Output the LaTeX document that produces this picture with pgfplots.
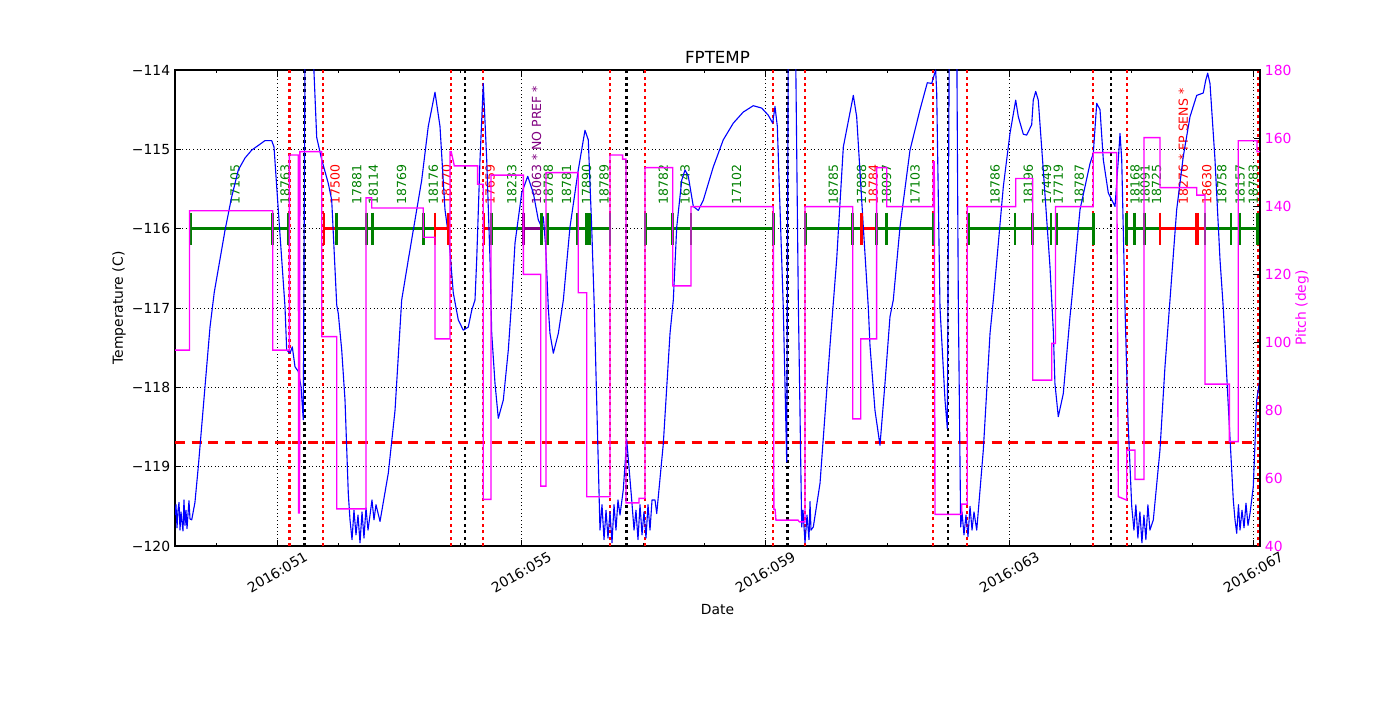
\documentclass[border=0pt]{standalone}
\usepackage{fontspec}
\setmainfont{DejaVu Sans}
\usepackage{pgfplots}
\pgfplotsset{compat=1.18}
\definecolor{mplgreen}{rgb}{0,0.5,0}
\definecolor{mplpurple}{rgb}{0.5,0,0.5}
\definecolor{mplmag}{rgb}{1,0,1}
\definecolor{mplred}{rgb}{1,0,0}
\definecolor{mplblue}{rgb}{0,0,1}
\newcommand{\seg}[3]{\addplot[#1, line width=2pt, mark=|, mark size=11.4pt, mark options={line width=2pt, solid}] coordinates {(#2,-116) (#3,-116)};}
\newcommand{\lab}[3]{\node[rotate=90, anchor=west, inner sep=0pt, text=#1, font=\fontsize{9}{10}\selectfont] at (axis cs:#2,-115.70) {#3};}
\newcommand{\vl}[2]{\addplot[#1, line width=1.7pt, dash pattern=on 2.2pt off 2.4pt] coordinates {(#2,-120) (#2,-114)};}

\pgfplotstableread{
x y
49.323 -119.61
49.339 -119.48
49.356 -119.77
49.372 -119.55
49.389 -119.45
49.405 -119.80
49.421 -119.57
49.438 -119.70
49.454 -119.81
49.470 -119.42
49.487 -119.74
49.503 -119.55
49.520 -119.78
49.536 -119.60
49.552 -119.43
49.569 -119.66
49.597 -119.67
49.650 -119.45
49.705 -119.00
49.815 -117.99
49.897 -117.24
49.967 -116.80
50.143 -116.02
50.252 -115.60
50.361 -115.26
50.470 -115.11
50.580 -115.01
50.690 -114.95
50.798 -114.89
50.908 -114.89
50.946 -114.97
51.016 -115.76
51.126 -116.98
51.154 -117.53
51.208 -117.57
51.246 -117.49
51.290 -117.74
51.344 -117.80
51.389 -117.99
51.426 -118.41
51.459 -113.00
51.590 -113.00
51.600 -114.00
51.646 -114.85
51.728 -115.13
51.836 -115.43
51.892 -115.64
51.974 -116.96
52.000 -117.07
52.056 -117.53
52.110 -118.16
52.164 -119.34
52.192 -119.67
52.225 -119.92
52.257 -119.55
52.290 -119.86
52.323 -119.61
52.356 -119.96
52.389 -119.57
52.421 -119.90
52.454 -119.52
52.487 -119.80
52.520 -119.61
52.552 -119.42
52.585 -119.67
52.618 -119.48
52.684 -119.69
52.820 -119.08
52.930 -118.29
53.039 -116.90
53.148 -116.39
53.367 -115.39
53.475 -114.71
53.585 -114.28
53.667 -114.71
53.749 -115.76
53.815 -116.14
53.885 -116.81
53.967 -117.15
54.049 -117.28
54.131 -117.24
54.187 -117.03
54.241 -116.90
54.269 -116.39
54.323 -115.13
54.377 -114.17
54.433 -115.13
54.487 -116.39
54.515 -117.32
54.569 -117.95
54.623 -118.39
54.705 -118.16
54.787 -117.53
54.843 -116.90
54.897 -116.18
55.007 -115.55
55.105 -115.34
55.197 -115.55
55.279 -115.89
55.334 -115.98
55.361 -115.85
55.400 -116.23
55.443 -117.00
55.470 -117.32
55.525 -117.57
55.607 -117.32
55.689 -116.90
55.798 -115.98
55.934 -115.26
56.044 -114.76
56.098 -114.88
56.154 -115.98
56.197 -117.00
56.290 -119.80
56.323 -119.48
56.356 -119.92
56.389 -119.55
56.421 -119.90
56.454 -119.57
56.487 -119.96
56.520 -119.48
56.552 -119.80
56.585 -119.42
56.618 -119.61
56.672 -119.29
56.728 -118.66
56.810 -119.42
56.848 -119.80
56.880 -119.55
56.913 -119.92
56.946 -119.48
56.979 -119.86
57.011 -119.57
57.044 -119.90
57.077 -119.48
57.110 -119.80
57.143 -119.42
57.192 -119.42
57.220 -119.59
57.328 -118.71
57.438 -117.32
57.492 -116.90
57.548 -115.98
57.630 -115.39
57.684 -115.26
57.738 -115.34
57.820 -115.72
57.902 -115.77
57.984 -115.64
58.148 -115.22
58.311 -114.88
58.475 -114.67
58.639 -114.53
58.803 -114.45
58.941 -114.48
59.049 -114.57
59.121 -114.67
59.159 -114.46
59.197 -114.71
59.295 -117.00
59.351 -118.94
59.380 -113.00
59.487 -113.00
59.541 -116.90
59.597 -119.76
59.618 -119.55
59.651 -119.96
59.684 -119.61
59.716 -119.92
59.733 -119.44
59.749 -119.80
59.787 -119.76
59.897 -119.21
60.061 -117.47
60.170 -116.39
60.279 -114.97
60.443 -114.32
60.498 -114.59
60.607 -115.98
60.689 -117.00
60.716 -117.47
60.798 -118.29
60.880 -118.73
60.962 -117.95
61.044 -117.11
61.098 -116.90
61.208 -115.98
61.372 -115.01
61.536 -114.50
61.656 -114.16
61.728 -114.17
61.754 -114.10
61.793 -114.00
61.810 -114.29
61.864 -117.00
61.946 -118.16
61.984 -118.52
62.020 -113.00
62.134 -113.00
62.164 -116.90
62.203 -119.76
62.225 -119.57
62.257 -119.86
62.290 -119.61
62.323 -119.88
62.356 -119.50
62.389 -119.80
62.421 -119.57
62.466 -119.80
62.574 -118.79
62.684 -117.32
62.738 -116.90
62.902 -115.47
63.011 -114.80
63.105 -114.38
63.148 -114.59
63.230 -114.81
63.285 -114.82
63.367 -114.69
63.393 -114.38
63.433 -114.27
63.475 -114.38
63.557 -115.26
63.667 -116.48
63.721 -117.28
63.748 -117.95
63.803 -118.37
63.885 -118.08
63.995 -117.11
64.023 -116.90
64.159 -115.76
64.323 -115.18
64.377 -115.05
64.433 -114.42
64.487 -114.50
64.541 -115.13
64.623 -115.55
64.733 -115.72
64.787 -115.13
64.815 -114.80
64.843 -115.13
64.897 -117.00
64.946 -118.41
65.007 -119.50
65.043 -119.80
65.075 -119.48
65.108 -119.90
65.141 -119.57
65.174 -119.96
65.207 -119.61
65.239 -119.92
65.272 -119.48
65.305 -119.80
65.361 -119.67
65.470 -118.79
65.552 -117.74
65.634 -116.90
65.744 -115.76
65.852 -115.09
65.962 -114.59
66.072 -114.32
66.180 -114.29
66.220 -114.13
66.252 -114.04
66.290 -114.17
66.372 -115.13
66.454 -116.39
66.508 -117.00
66.585 -118.16
66.672 -119.42
66.700 -119.67
66.728 -119.84
66.757 -119.48
66.782 -119.80
66.815 -119.55
66.848 -119.77
66.880 -119.46
66.913 -119.74
66.946 -119.59
67.000 -119.25
67.056 -118.16
67.098 -117.95
67.110 -117.78
}\temptable

\pgfplotstableread{
x p
49.323 97.6
49.561 97.6
49.561 138.6
50.925 138.6
50.925 97.6
51.197 97.6
51.197 155.0
51.344 155.0
51.350 49.7
51.364 49.7
51.370 156.0
51.728 156.0
51.728 101.6
51.974 101.6
51.974 50.9
52.454 50.9
52.454 142.4
52.548 142.4
52.548 139.4
53.393 139.4
53.393 130.8
53.585 130.8
53.585 100.9
53.831 100.9
53.831 156.0
53.850 156.0
53.902 151.8
54.285 151.8
54.285 146.4
54.377 146.4
54.377 53.7
54.503 53.7
54.503 149.1
55.033 149.1
55.033 119.9
55.318 119.9
55.318 57.6
55.405 57.6
55.405 149.8
55.934 149.8
55.934 114.5
56.072 114.5
56.072 54.5
56.454 54.5
56.454 155.0
56.662 155.0
56.662 153.8
56.716 153.8
56.716 52.7
56.930 52.7
56.930 54.0
57.028 54.0
57.028 151.3
57.482 151.3
57.482 116.5
57.782 116.5
57.782 139.8
59.131 139.8
59.140 50.8
59.160 50.8
59.175 47.6
59.536 47.6
59.560 47.1
59.651 47.1
59.651 139.8
60.433 139.8
60.433 77.4
60.564 77.4
60.564 100.9
60.826 100.9
60.826 151.3
60.990 151.3
60.990 139.8
61.754 139.8
61.754 153.0
61.770 153.0
61.782 49.3
62.220 49.3
62.220 52.3
62.311 52.3
62.311 139.8
63.105 139.8
63.105 148.1
63.384 148.1
63.384 88.8
63.695 88.8
63.695 99.6
63.757 99.6
63.757 139.8
64.377 139.8
64.377 155.7
64.761 155.7
64.787 54.5
64.925 53.5
64.925 68.2
65.061 68.2
65.061 59.6
65.208 59.6
65.208 160.1
65.470 160.1
65.470 145.4
66.072 145.4
66.072 143.2
66.208 143.2
66.208 87.6
66.607 87.6
66.607 70.7
66.754 70.7
66.754 159.2
67.061 159.2
67.061 156.0
67.110 156.0
}\pitchtable

\begin{document}
\begin{tikzpicture}
\path[use as bounding box] (0,0) rectangle (1008pt,504pt);
\begin{axis}[
  at={(126pt,110.88pt)}, anchor=south west,
  scale only axis, width=781.2pt, height=342.72pt,
  xmin=49.323, xmax=67.11, ymin=-120, ymax=-114,
  xtick={51,55,59,63,67},
  xticklabels={2016:051,2016:055,2016:059,2016:063,2016:067},
  minor xtick={50,52,53,54,56,57,58,60,61,62,64,65,66},
  ytick={-120,-119,-118,-117,-116,-115,-114},
  yticklabels={−120,−119,−118,−117,−116,−115,−114},
  xtick pos=both, ytick pos=left,
  tick align=inside,
  major tick length=4pt, minor tick length=2pt,
  tick style={black, line width=0.5pt},
  xmajorgrids, ymajorgrids,
  major grid style={black, line width=0.5pt, dash pattern=on 0.6pt off 2pt},
  axis line style={black, line width=0.8pt},
  tick label style={font=\fontsize{10}{12}\selectfont},
  xticklabel style={yshift=-19pt, rotate=30, anchor=center},
  title={FPTEMP},
  title style={font=\fontsize{12}{14}\selectfont, at={(axis description cs:0.5,1.0273)}, anchor=center, yshift=-6pt},
  xlabel={Date},
  xlabel style={font=\fontsize{10}{12}\selectfont, at={(axis description cs:0.5,-0.1345)}, anchor=center},
  ylabel={Temperature (C)},
  ylabel style={font=\fontsize{10}{12}\selectfont, at={(axis description cs:-0.0516,0.5)}, anchor=center},
]
% vertical lines
\vl{mplred}{51.200}
\vl{mplred}{51.754}
\vl{mplred}{53.843}
\vl{mplred}{54.377}
\vl{mplred}{56.454}
\vl{mplred}{57.028}
\vl{mplred}{59.131}
\vl{mplred}{59.651}
\vl{mplred}{61.754}
\vl{mplred}{62.311}
\vl{mplred}{64.377}
\vl{mplred}{64.934}
\vl{mplred}{67.085}
\vl{black}{51.443}
\vl{black}{54.077}
\vl{black}{56.725}
\vl{black}{59.361}
\vl{black}{61.990}
\vl{black}{64.662}
% limit line
\addplot[mplred, line width=2.2pt, dash pattern=on 7.2pt off 4.8pt] coordinates {(49.323,-118.70) (67.11,-118.70)};
% observation bars
\seg{mplgreen}{49.580}{50.925}
\seg{mplgreen}{50.925}{51.180}
\seg{mplred}{51.766}{51.974}
\seg{mplgreen}{51.974}{52.466}
\seg{mplgreen}{52.466}{52.557}
\seg{mplgreen}{52.557}{53.393}
\seg{mplgreen}{53.393}{53.585}
\seg{mplred}{53.585}{53.803}
\seg{mplred}{54.389}{54.515}
\seg{mplgreen}{54.515}{55.033}
\seg{mplpurple}{55.033}{55.334}
\seg{mplgreen}{55.334}{55.426}
\seg{mplgreen}{55.426}{55.925}
\seg{mplgreen}{55.925}{56.072}
\seg{mplgreen}{56.115}{56.454}
\seg{mplgreen}{57.039}{57.482}
\seg{mplgreen}{57.482}{57.782}
\seg{mplgreen}{57.782}{59.131}
\seg{mplgreen}{59.662}{60.433}
\seg{mplgreen}{60.433}{60.580}
\seg{mplred}{60.580}{60.826}
\seg{mplgreen}{60.826}{60.990}
\seg{mplgreen}{60.990}{61.754}
\seg{mplgreen}{62.328}{63.093}
\seg{mplgreen}{63.093}{63.377}
\seg{mplgreen}{63.377}{63.684}
\seg{mplgreen}{63.684}{63.777}
\seg{mplgreen}{63.777}{64.377}
\seg{mplgreen}{64.925}{65.049}
\seg{mplgreen}{65.049}{65.213}
\seg{mplgreen}{65.213}{65.470}
\seg{mplred}{65.470}{66.061}
\seg{mplred}{66.093}{66.208}
\seg{mplgreen}{66.208}{66.634}
\seg{mplgreen}{66.634}{66.782}
\seg{mplgreen}{66.782}{67.072}
% labels
\lab{mplgreen}{50.307}{17105}
\lab{mplgreen}{51.126}{18763}
\lab{mplred}{51.946}{17500}
\lab{mplgreen}{52.302}{17881}
\lab{mplgreen}{52.574}{18114}
\lab{mplgreen}{53.039}{18769}
\lab{mplgreen}{53.557}{18176}
\lab{mplred}{53.777}{18770}
\lab{mplred}{54.487}{17659}
\lab{mplgreen}{54.843}{18233}
\lab{mplpurple}{55.252}{18063 * NO PREF *}
\lab{mplgreen}{55.443}{18788}
\lab{mplgreen}{55.744}{18781}
\lab{mplgreen}{56.072}{17890}
\lab{mplgreen}{56.356}{18789}
\lab{mplgreen}{57.328}{18782}
\lab{mplgreen}{57.684}{16743}
\lab{mplgreen}{58.531}{17102}
\lab{mplgreen}{60.115}{18785}
\lab{mplgreen}{60.580}{17888}
\lab{mplred}{60.770}{18784}
\lab{mplgreen}{60.990}{18097}
\lab{mplgreen}{61.454}{17103}
\lab{mplgreen}{62.766}{18786}
\lab{mplgreen}{63.311}{18196}
\lab{mplgreen}{63.613}{17449}
\lab{mplgreen}{63.803}{17719}
\lab{mplgreen}{64.148}{18787}
\lab{mplgreen}{65.061}{18168}
\lab{mplgreen}{65.225}{18091}
\lab{mplgreen}{65.416}{18725}
\lab{mplred}{65.852}{18276 * FP SENS *}
\lab{mplred}{66.236}{18630}
\lab{mplgreen}{66.482}{18758}
\lab{mplgreen}{66.782}{18157}
\lab{mplgreen}{67.000}{18783}
% temperature
\addplot[mplblue, line width=0.8pt, line join=round] table[x=x, y=y] {\temptable};
\end{axis}
\begin{axis}[
  at={(126pt,110.88pt)}, anchor=south west,
  scale only axis, width=781.2pt, height=342.72pt,
  xmin=49.323, xmax=67.11, ymin=40, ymax=180,
  axis x line=none, axis y line*=right,
  ytick={40,60,80,100,120,140,160,180},
  yticklabels={40,60,80,100,120,140,160,180},
  tick align=inside, major tick length=4pt,
  tick style={black, line width=0.5pt},
  axis line style={black, line width=0.8pt},
  yticklabel style={text=mplmag, font=\fontsize{10}{12}\selectfont},
  ylabel={Pitch (deg)},
  ylabel style={text=mplmag, font=\fontsize{10}{12}\selectfont, at={(axis description cs:1.0387,0.5)}, anchor=center},
]
\addplot[mplmag, line width=1pt] table[x=x, y=p] {\pitchtable};
\end{axis}
\end{tikzpicture}
\end{document}
